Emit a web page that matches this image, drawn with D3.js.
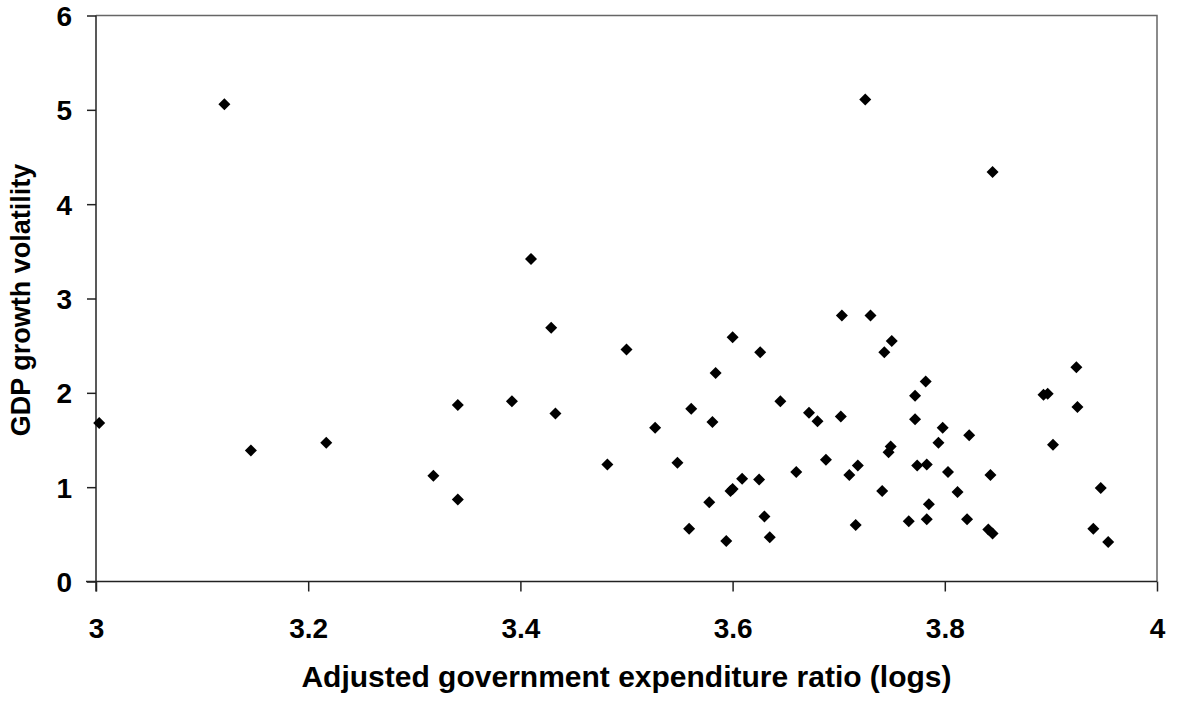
<!DOCTYPE html>
<html>
<head>
<meta charset="utf-8">
<script src="https://cdn.jsdelivr.net/npm/d3@7"></script>
<style>
body { margin: 0; background: #fff; }
text { font-family: "Liberation Sans", Arial, sans-serif; font-weight: bold; }
</style>
</head>
<body>
<svg id="mainSVG" width="1177" height="702"></svg>
<script>

// data
var expRatio = [3.003, 3.121, 3.146, 3.217, 3.318, 3.341, 3.341, 3.392, 3.410, 3.429,
  3.433, 3.482, 3.500, 3.527, 3.548, 3.559, 3.561, 3.578, 3.581, 3.584,
  3.594, 3.598, 3.600, 3.600, 3.609, 3.625, 3.626, 3.630, 3.635, 3.645,
  3.660, 3.672, 3.680, 3.688, 3.702, 3.703, 3.710, 3.716, 3.718, 3.725,
  3.730, 3.741, 3.743, 3.747, 3.749, 3.750, 3.766, 3.772, 3.772, 3.774,
  3.782, 3.783, 3.783, 3.785, 3.794, 3.798, 3.803, 3.812, 3.821, 3.823,
  3.841, 3.843, 3.845, 3.845, 3.893, 3.897, 3.902, 3.924, 3.925, 3.940,
  3.947, 3.954];

var volatility = [1.68, 5.06, 1.39, 1.47, 1.12, 1.87, 0.87, 1.91, 3.42, 2.69,
  1.78, 1.24, 2.46, 1.63, 1.26, 0.56, 1.83, 0.84, 1.69, 2.21,
  0.43, 0.96, 0.98, 2.59, 1.09, 1.08, 2.43, 0.69, 0.47, 1.91,
  1.16, 1.79, 1.70, 1.29, 1.75, 2.82, 1.13, 0.60, 1.23, 5.11,
  2.82, 0.96, 2.43, 1.37, 1.43, 2.55, 0.64, 1.97, 1.72, 1.23,
  2.12, 1.24, 0.66, 0.82, 1.47, 1.63, 1.16, 0.95, 0.66, 1.55,
  0.55, 1.13, 0.51, 4.34, 1.98, 1.99, 1.45, 2.27, 1.85, 0.56,
  0.99, 0.42];

var xTicks = [3, 3.2, 3.4, 3.6, 3.8, 4];
var yTicks = [0, 1, 2, 3, 4, 5, 6];

var xTitle = "Adjusted government expenditure ratio (logs)";
var yTitle = "GDP growth volatility";

var marginLeft = 96, marginTop = 15.5, plotW = 1061, plotH = 566;

var svg = d3.select("#mainSVG");

var x = d3.scaleLinear().domain([3, 4]).range([0, plotW]);
var y = d3.scaleLinear().domain([0, 6]).range([plotH, 0]);

var g = svg.append("g").attr("transform", "translate(" + marginLeft + "," + marginTop + ")");

// frame (top and right)
g.append("path")
    .attr("d", "M" + x(3) + "," + y(6) + "H" + x(4) + "V" + y(0))
    .attr("fill", "none")
    .attr("stroke", "#666")
    .attr("stroke-width", 1.5);

var xAxis = g.append("g")
    .attr("transform", "translate(0," + plotH + ")")
    .call(d3.axisBottom(x).tickValues(xTicks).tickSize(10).tickSizeOuter(0)
      .tickFormat(function(d) { return String(+d.toFixed(1)); }));

var yAxis = g.append("g")
    .call(d3.axisLeft(y).tickValues(yTicks).tickSize(9).tickSizeOuter(0)
      .tickFormat(d3.format("d")));

xAxis.select(".domain").remove();
yAxis.select(".domain").remove();

// axis lines, the left one runs down past the x axis like in the picture
g.append("line")
    .attr("x1", 0).attr("x2", 0)
    .attr("y1", 0).attr("y2", plotH + 10)
    .attr("stroke", "#222")
    .attr("stroke-width", 1.5);
g.append("line")
    .attr("x1", -10).attr("x2", plotW)
    .attr("y1", plotH).attr("y2", plotH)
    .attr("stroke", "#222")
    .attr("stroke-width", 1.5);

xAxis.selectAll(".tick line").attr("stroke", "#222").attr("stroke-width", 1.5);
yAxis.selectAll(".tick line").attr("stroke", "#222").attr("stroke-width", 1.5);

xAxis.selectAll(".tick text")
    .attr("y", 56)
    .attr("dy", null)
    .attr("font-size", 28)
    .attr("fill", "#000")
    .attr("font-family", "Liberation Sans, Arial, sans-serif")
    .attr("font-weight", "bold");

yAxis.selectAll(".tick text")
    .attr("x", -24)
    .attr("dy", "0.36em")
    .attr("font-size", 28)
    .attr("fill", "#000")
    .attr("font-family", "Liberation Sans, Arial, sans-serif")
    .attr("font-weight", "bold");

// markers
var points = expRatio.map(function(d, i) { return {x: d, y: volatility[i]}; });

g.selectAll(".dot")
    .data(points)
    .enter().append("path")
    .attr("class", "dot")
    .attr("d", d3.symbol().type(d3.symbolSquare).size(72))
    .attr("transform", function(d) { return "translate(" + x(d.x) + "," + y(d.y) + ") rotate(45)"; })
    .attr("fill", "#000");

// titles
svg.append("text")
    .attr("x", marginLeft + plotW / 2)
    .attr("y", 687)
    .attr("text-anchor", "middle")
    .attr("font-size", 30)
    .attr("fill", "#000")
    .text(xTitle);

svg.append("text")
    .attr("transform", "translate(30,300) rotate(-90)")
    .attr("text-anchor", "middle")
    .attr("font-size", 27)
    .attr("fill", "#000")
    .text(yTitle);

</script>
</body>
</html>
